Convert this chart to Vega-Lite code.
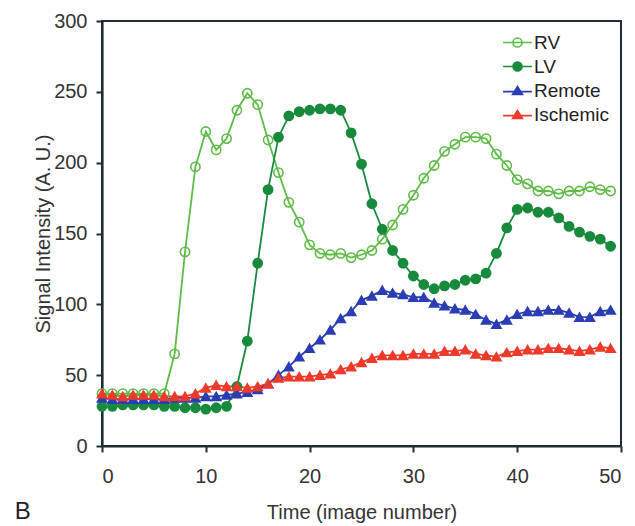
{
  "$schema": "https://vega.github.io/schema/vega-lite/v6.json",
  "width": 519,
  "height": 425,
  "autosize": {"type": "none"},
  "padding": {"left": 102, "top": 21, "right": 14, "bottom": 80},
  "background": "white",
  "config": {
    "font": "Liberation Sans",
    "view": {"stroke": "#1f2d33", "strokeWidth": 2},
    "axis": {
      "grid": false,
      "domainColor": "#1f2d33",
      "domainWidth": 2.2,
      "tickColor": "#1f2d33",
      "tickWidth": 2,
      "tickSize": 6,
      "labelFontSize": 20,
      "labelColor": "#333333",
      "titleFontSize": 20,
      "titleFontWeight": "normal",
      "titleColor": "#333333",
      "labelFont": "Liberation Sans",
      "titleFont": "Liberation Sans"
    },
    "legend": {"labelFont": "Liberation Sans"}
  },
  "title": {
    "text": "B",
    "orient": "bottom",
    "anchor": "start",
    "frame": "bounds",
    "fontSize": 24,
    "fontWeight": "normal",
    "color": "#222222",
    "dx": -19,
    "dy": -22,
    "offset": 0
  },
  "data": {
    "values": [
      {"t":0,"RV":37,"LV":28,"Remote":34,"Ischemic":37},
      {"t":1,"RV":37,"LV":28,"Remote":33,"Ischemic":36},
      {"t":2,"RV":37,"LV":29,"Remote":33,"Ischemic":35},
      {"t":3,"RV":37,"LV":29,"Remote":33,"Ischemic":36},
      {"t":4,"RV":37,"LV":29,"Remote":33,"Ischemic":36},
      {"t":5,"RV":37,"LV":29,"Remote":33,"Ischemic":36},
      {"t":6,"RV":37,"LV":28,"Remote":33,"Ischemic":35},
      {"t":7,"RV":65,"LV":28,"Remote":34,"Ischemic":35},
      {"t":8,"RV":137,"LV":27,"Remote":34,"Ischemic":35},
      {"t":9,"RV":197,"LV":27,"Remote":34,"Ischemic":37},
      {"t":10,"RV":222,"LV":26,"Remote":35,"Ischemic":41},
      {"t":11,"RV":209,"LV":27,"Remote":35,"Ischemic":43},
      {"t":12,"RV":217,"LV":28,"Remote":36,"Ischemic":42},
      {"t":13,"RV":237,"LV":42,"Remote":37,"Ischemic":42},
      {"t":14,"RV":249,"LV":74,"Remote":38,"Ischemic":41},
      {"t":15,"RV":241,"LV":129,"Remote":40,"Ischemic":42},
      {"t":16,"RV":216,"LV":181,"Remote":44,"Ischemic":44},
      {"t":17,"RV":193,"LV":218,"Remote":50,"Ischemic":48},
      {"t":18,"RV":172,"LV":233,"Remote":56,"Ischemic":49},
      {"t":19,"RV":158,"LV":236,"Remote":63,"Ischemic":49},
      {"t":20,"RV":142,"LV":237,"Remote":69,"Ischemic":49},
      {"t":21,"RV":136,"LV":238,"Remote":75,"Ischemic":50},
      {"t":22,"RV":135,"LV":238,"Remote":82,"Ischemic":51},
      {"t":23,"RV":136,"LV":237,"Remote":90,"Ischemic":54},
      {"t":24,"RV":133,"LV":221,"Remote":95,"Ischemic":56},
      {"t":25,"RV":135,"LV":199,"Remote":103,"Ischemic":59},
      {"t":26,"RV":138,"LV":171,"Remote":106,"Ischemic":62},
      {"t":27,"RV":146,"LV":153,"Remote":110,"Ischemic":64},
      {"t":28,"RV":156,"LV":138,"Remote":108,"Ischemic":64},
      {"t":29,"RV":167,"LV":129,"Remote":107,"Ischemic":64},
      {"t":30,"RV":177,"LV":120,"Remote":105,"Ischemic":65},
      {"t":31,"RV":189,"LV":114,"Remote":105,"Ischemic":65},
      {"t":32,"RV":198,"LV":111,"Remote":101,"Ischemic":65},
      {"t":33,"RV":208,"LV":113,"Remote":99,"Ischemic":67},
      {"t":34,"RV":213,"LV":114,"Remote":97,"Ischemic":67},
      {"t":35,"RV":218,"LV":117,"Remote":96,"Ischemic":68},
      {"t":36,"RV":218,"LV":118,"Remote":93,"Ischemic":65},
      {"t":37,"RV":217,"LV":122,"Remote":89,"Ischemic":64},
      {"t":38,"RV":206,"LV":136,"Remote":86,"Ischemic":63},
      {"t":39,"RV":198,"LV":154,"Remote":89,"Ischemic":66},
      {"t":40,"RV":188,"LV":167,"Remote":93,"Ischemic":67},
      {"t":41,"RV":185,"LV":168,"Remote":95,"Ischemic":68},
      {"t":42,"RV":180,"LV":165,"Remote":95,"Ischemic":68},
      {"t":43,"RV":180,"LV":165,"Remote":96,"Ischemic":69},
      {"t":44,"RV":178,"LV":161,"Remote":96,"Ischemic":69},
      {"t":45,"RV":180,"LV":155,"Remote":94,"Ischemic":68},
      {"t":46,"RV":180,"LV":151,"Remote":91,"Ischemic":67},
      {"t":47,"RV":183,"LV":148,"Remote":91,"Ischemic":68},
      {"t":48,"RV":181,"LV":146,"Remote":95,"Ischemic":70},
      {"t":49,"RV":180,"LV":141,"Remote":96,"Ischemic":69}
    ]
  },
  "transform": [
    {"fold": ["RV", "LV", "Remote", "Ischemic"], "as": ["series", "v"]}
  ],
  "encoding": {
    "x": {
      "field": "t",
      "type": "quantitative",
      "scale": {"domain": [0, 50], "nice": false},
      "axis": {"values": [0, 10, 20, 30, 40, 50], "title": "Time (image number)", "labelPadding": 14, "titlePadding": 16}
    },
    "y": {
      "field": "v",
      "type": "quantitative",
      "scale": {"domain": [0, 300], "nice": false},
      "axis": {"values": [0, 50, 100, 150, 200, 250, 300], "title": "Signal Intensity (A. U.)", "labelPadding": 9, "titlePadding": 0}
    },
    "stroke": {
      "field": "series",
      "type": "nominal",
      "scale": {"domain": ["RV", "LV", "Remote", "Ischemic"], "range": ["#5dbb46", "#178a3c", "#2a3db5", "#ee3a2a"]},
      "legend": {
        "title": null,
        "orient": "top-right",
        "offset": 12,
        "padding": 0,
        "labelFontSize": 19,
        "labelColor": "#222222",
        "symbolSize": 81,
        "symbolStrokeWidth": 1.6,
        "labelOffset": 7,
        "rowPadding": 4,
        "encode": {
          "symbols": {
            "update": {
              "shape": {"signal": "(datum.value === 'RV' || datum.value === 'LV') ? 'M-3.2,0H3.2M1,0A1,1,0,1,1,-1,0A1,1,0,1,1,1,0Z' : 'M-3.2,0.25H3.2M0,-0.9L-1.1,0.85L1.1,0.85Z'"}
            }
          }
        }
      }
    }
  },
  "layer": [
    {
      "mark": {"type": "line", "strokeWidth": 1.8},
      "encoding": {
        "detail": {"field": "series"}
      }
    },
    {
      "transform": [{"filter": "datum.series === 'RV' || datum.series === 'LV'"}],
      "mark": {"type": "point", "shape": "circle", "size": 85, "strokeWidth": 1.6, "opacity": 1},
      "encoding": {
        "fill": {
          "field": "series",
          "type": "nominal",
          "scale": {"domain": ["RV", "LV", "Remote", "Ischemic"], "range": ["rgba(255,255,255,0)", "#178a3c", "#2a3db5", "#ee3a2a"]}
        }
      }
    },
    {
      "transform": [{"filter": "datum.series === 'Remote' || datum.series === 'Ischemic'"}],
      "mark": {"type": "point", "shape": "triangle-up", "size": 85, "strokeWidth": 1.6, "opacity": 1},
      "encoding": {
        "fill": {
          "field": "series",
          "type": "nominal",
          "scale": {"domain": ["RV", "LV", "Remote", "Ischemic"], "range": ["rgba(255,255,255,0)", "#178a3c", "#2a3db5", "#ee3a2a"]}
        }
      }
    }
  ]
}
